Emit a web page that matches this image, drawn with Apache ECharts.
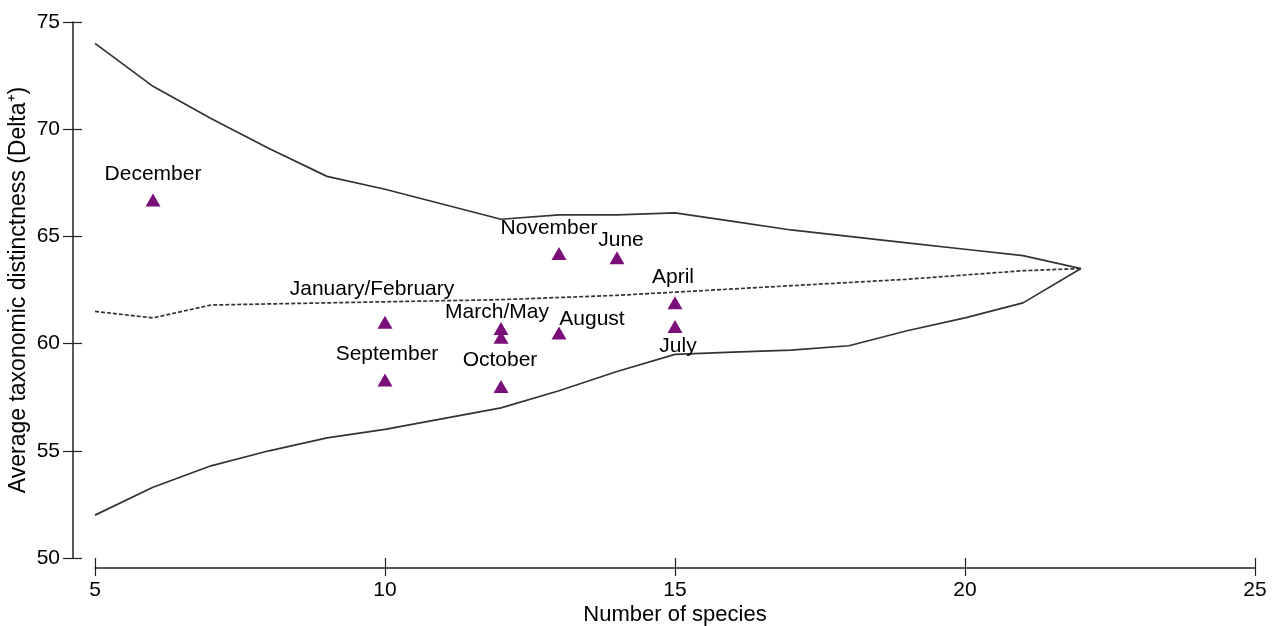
<!DOCTYPE html>
<html>
<head>
<meta charset="utf-8">
<script src="https://cdn.jsdelivr.net/npm/echarts@6/dist/echarts.min.js"></script>
<style>
html,body{margin:0;padding:0;background:#fff;}
#chart{width:1277px;height:626px;}
</style>
</head>
<body>
<div id="chart"></div>
<script>
// ---- data ----
var speciesCounts = [5, 6, 7, 8, 9, 10, 11, 12, 13, 14, 15, 16, 17, 18, 19, 20, 21, 22];
var upperLimit = [74.0, 72.0, 70.5, 69.1, 67.8, 67.2, 66.5, 65.8, 66.0, 66.0, 66.1, 65.7, 65.3, 65.0, 64.7, 64.4, 64.1, 63.5];
var meanDelta  = [61.5, 61.2, 61.8, 61.85, 61.9, 61.95, 62.0, 62.05, 62.15, 62.25, 62.4, 62.55, 62.7, 62.85, 63.0, 63.2, 63.4, 63.5];
var lowerLimit = [52.0, 53.3, 54.3, 55.0, 55.6, 56.0, 56.5, 57.0, 57.8, 58.7, 59.5, 59.6, 59.7, 59.9, 60.6, 61.2, 61.9, 63.5];

var sampleNames   = ['December', 'January/February', 'September', 'March/May', '', 'October', 'November', 'June', 'August', 'April', 'July'];
var sampleSpecies = [6, 10, 10, 12, 12, 12, 13, 14, 13, 15, 15];
var sampleDelta   = [66.7, 61.0, 58.3, 60.7, 60.3, 58.0, 64.2, 64.0, 60.5, 61.9, 60.8];

var xTicks = [5, 10, 15, 20, 25];
var yTicks = [50, 55, 60, 65, 70, 75];

// ---- label placement (styling, not data) ----
var labelOffsets = {
  'December': [0, -26],
  'January/February': [-13, -33],
  'September': [2, -26],
  'March/May': [-4, -16],
  'October': [-1, -26],
  'November': [-10, -25],
  'June': [4, -18],
  'August': [33, -14],
  'April': [-2, -26],
  'July': [3, 20]
};

var FONT = "'Liberation Sans', Arial, sans-serif";
var lineColor = '#333333';
var labelStyle = { color: '#000', fontSize: 21, fontFamily: FONT };

function pairs(xs, ys) { return xs.map(function (x, i) { return [x, ys[i]]; }); }

var scatterData = sampleNames.map(function (n, i) {
  var item = { name: n, value: [sampleSpecies[i], sampleDelta[i]] };
  if (n && labelOffsets[n]) {
    item.label = Object.assign({ show: true, position: 'inside', offset: labelOffsets[n], formatter: '{b}' }, labelStyle);
  } else {
    item.label = { show: false };
  }
  return item;
});

var chart = echarts.init(document.getElementById('chart'), null, { renderer: 'canvas' });

var baseX = {
  type: 'value', min: xTicks[0], max: xTicks[xTicks.length - 1], interval: 5,
  position: 'bottom', offset: 10, splitLine: { show: false }
};
var baseY = {
  type: 'value', min: yTicks[0], max: yTicks[yTicks.length - 1], interval: 5,
  position: 'left', offset: 22, splitLine: { show: false }
};

chart.setOption({
  animation: false,
  backgroundColor: '#ffffff',
  grid: { left: 95, right: 22, top: 22, bottom: 68, containLabel: false, outerBoundsMode: 'none' },
  xAxis: [
    Object.assign({}, baseX, {
      name: 'Number of species', nameLocation: 'middle', nameGap: 36, nameMoveOverlap: false,
      nameTextStyle: { color: '#000', fontSize: 22, fontFamily: FONT },
      axisLine: { show: true, lineStyle: { color: '#222', width: 1.5 } },
      axisTick: { show: true, inside: false, length: 8, lineStyle: { color: '#222', width: 1.2 } },
      axisLabel: { show: true, color: '#000', fontSize: 21, fontFamily: FONT, margin: 12 }
    }),
    Object.assign({}, baseX, {
      axisLine: { show: false },
      axisTick: { show: true, inside: true, length: 10, lineStyle: { color: '#222', width: 1.2 } },
      axisLabel: { show: false }
    })
  ],
  yAxis: [
    Object.assign({}, baseY, {
      name: 'Average taxonomic distinctness (Delta\u207A)', nameLocation: 'middle', nameGap: 43, nameMoveOverlap: false,
      nameTextStyle: { color: '#000', fontSize: 23, fontFamily: FONT },
      axisLine: { show: true, lineStyle: { color: '#222', width: 1.5 } },
      axisTick: { show: true, inside: false, length: 10, lineStyle: { color: '#222', width: 1.2 } },
      axisLabel: { show: true, color: '#000', fontSize: 21, fontFamily: FONT, margin: 13 }
    }),
    Object.assign({}, baseY, {
      axisLine: { show: false },
      axisTick: { show: true, inside: true, length: 9, lineStyle: { color: '#222', width: 1.2 } },
      axisLabel: { show: false }
    })
  ],
  series: [
    {
      type: 'line', data: pairs(speciesCounts, upperLimit), symbol: 'none', silent: true,
      lineStyle: { color: lineColor, width: 1.7 }, z: 2
    },
    {
      type: 'line', data: pairs(speciesCounts, meanDelta), symbol: 'none', silent: true,
      lineStyle: { color: lineColor, width: 1.7, type: [4, 2] }, z: 2
    },
    {
      type: 'line', data: pairs(speciesCounts, lowerLimit), symbol: 'none', silent: true,
      lineStyle: { color: lineColor, width: 1.7 }, z: 2
    },
    {
      type: 'scatter', data: scatterData, symbol: 'triangle', symbolSize: [15, 13],
      itemStyle: { color: '#7a0f7a', opacity: 1 }, z: 3,
      label: Object.assign({ formatter: '{b}' }, labelStyle)
    }
  ]
});
</script>
</body>
</html>
